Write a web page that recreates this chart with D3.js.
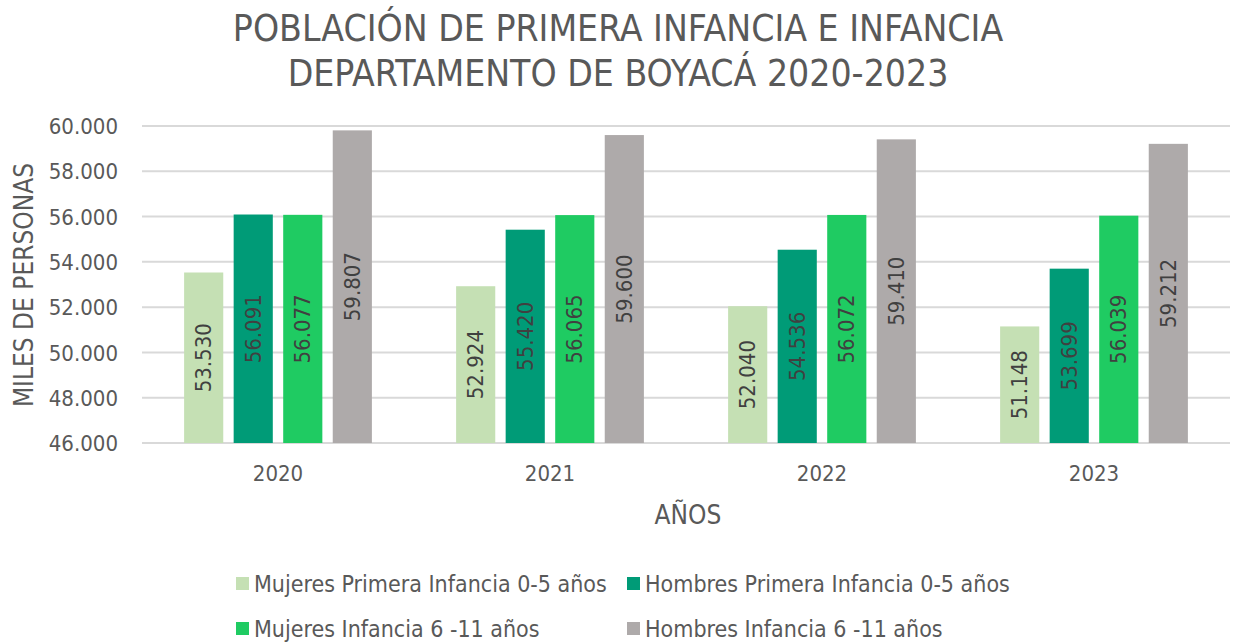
<!DOCTYPE html>
<html>
<head>
<meta charset="utf-8">
<script src="https://cdn.jsdelivr.net/npm/d3@7"></script>
<style>
  body { margin: 0; background: #fff; }
  svg text { font-family: "DejaVu Sans Condensed", "Liberation Sans Narrow", sans-serif; fill: #595959; }
</style>
</head>
<body>
<div id="container"></div>
<script>
// chart data
const years = ["2020", "2021", "2022", "2023"];
const seriesNames = [
  "Mujeres Primera Infancia 0-5 años",
  "Hombres Primera Infancia 0-5 años",
  "Mujeres Infancia 6 -11 años",
  "Hombres Infancia 6 -11 años",
];
const seriesColors = ["#C5E0B4", "#009B77", "#1FCB62", "#AEAAAA"];
const mujeresPrimera = [53530, 52924, 52040, 51148];
const hombresPrimera = [56091, 55420, 54536, 53699];
const mujeresInfancia = [56077, 56065, 56072, 56039];
const hombresInfancia = [59807, 59600, 59410, 59212];
const yTicks = [46000, 48000, 50000, 52000, 54000, 56000, 58000, 60000];

const allSeries = [mujeresPrimera, hombresPrimera, mujeresInfancia, hombresInfancia];

const width = 1235;
const height = 643;
const plotLeft = 142, plotRight = 1230, plotTop = 126, plotBottom = 443;

// spanish number format, dot as thousands separator
const locale = d3.formatLocale({ decimal: ",", thousands: ".", grouping: [3], currency: ["$", ""] });
const fmt = locale.format(",.0f");

const svg = d3.select("#container")
  .append("svg")
  .attr("width", width)
  .attr("height", height);

const x0 = d3.scaleBand().domain(years).range([plotLeft, plotRight]);
const x1 = d3.scaleBand()
  .domain(d3.range(seriesNames.length))
  .range([0, x0.bandwidth()])
  .paddingInner(0.21)
  .paddingOuter(0.85);
const y = d3.scaleLinear().domain([46000, 60000]).range([plotBottom, plotTop]);

// title
svg.append("text")
  .attr("x", 618).attr("y", 41)
  .attr("text-anchor", "middle")
  .style("font-size", "37px")
  .text("POBLACIÓN DE PRIMERA INFANCIA E INFANCIA");
svg.append("text")
  .attr("x", 618).attr("y", 86)
  .attr("text-anchor", "middle")
  .style("font-size", "37px")
  .text("DEPARTAMENTO DE BOYACÁ 2020-2023");

// gridlines
svg.append("g")
  .selectAll("line")
  .data(yTicks)
  .enter()
  .append("line")
  .attr("x1", plotLeft).attr("x2", plotRight)
  .attr("y1", (d) => y(d)).attr("y2", (d) => y(d))
  .attr("stroke", "#D9D9D9")
  .attr("stroke-width", 2);

// y axis labels
const yAxis = d3.axisLeft(y).tickValues(yTicks).tickFormat(fmt).tickSize(0).tickPadding(24);
const gy = svg.append("g").attr("transform", "translate(" + plotLeft + ",0)").call(yAxis);
gy.select(".domain").remove();
gy.selectAll("text").style("font-size", "22px").attr("dy", "0.35em");

// x axis labels
const xAxis = d3.axisBottom(x0).tickSize(0).tickPadding(22);
const gx = svg.append("g").attr("transform", "translate(0," + plotBottom + ")").call(xAxis);
gx.select(".domain").remove();
gx.selectAll("text").style("font-size", "22px");

// bars
const groups = svg.append("g")
  .selectAll("g")
  .data(years)
  .enter()
  .append("g")
  .attr("transform", (d) => "translate(" + x0(d) + ",0)");

groups.selectAll("rect")
  .data((d, i) => allSeries.map((s, j) => ({ series: j, value: s[i] })))
  .enter()
  .append("rect")
  .attr("x", (d) => x1(d.series))
  .attr("y", (d) => y(d.value))
  .attr("width", x1.bandwidth())
  .attr("height", (d) => plotBottom - y(d.value))
  .attr("fill", (d) => seriesColors[d.series]);

// value labels, rotated inside bars
groups.selectAll("text.val")
  .data((d, i) => allSeries.map((s, j) => ({ series: j, value: s[i] })))
  .enter()
  .append("text")
  .attr("class", "val")
  .attr("transform", (d) => {
    const cx = x1(d.series) + x1.bandwidth() / 2;
    const cy = (y(d.value) + plotBottom) / 2;
    return "translate(" + cx + "," + cy + ") rotate(-90)";
  })
  .attr("text-anchor", "middle")
  .attr("dy", "0.35em")
  .style("font-size", "22px")
  .style("fill", "#404040")
  .text((d) => fmt(d.value));

// axis titles
svg.append("text")
  .attr("transform", "translate(33,285) rotate(-90)")
  .attr("text-anchor", "middle")
  .style("font-size", "26px")
  .text("MILES DE PERSONAS");
svg.append("text")
  .attr("x", 688).attr("y", 524)
  .attr("text-anchor", "middle")
  .style("font-size", "26px")
  .text("AÑOS");

// legend
const legendPos = [[236, 584], [627, 584], [236, 629], [627, 629]];
const legend = svg.append("g")
  .selectAll("g")
  .data(seriesNames)
  .enter()
  .append("g")
  .attr("transform", (d, i) => "translate(" + legendPos[i][0] + "," + legendPos[i][1] + ")");
legend.append("rect")
  .attr("x", 0).attr("y", -7)
  .attr("width", 13).attr("height", 13)
  .attr("fill", (d, i) => seriesColors[i]);
legend.append("text")
  .attr("x", 18)
  .attr("dy", "0.35em")
  .style("font-size", "23px")
  .text((d) => d);
</script>
</body>
</html>
